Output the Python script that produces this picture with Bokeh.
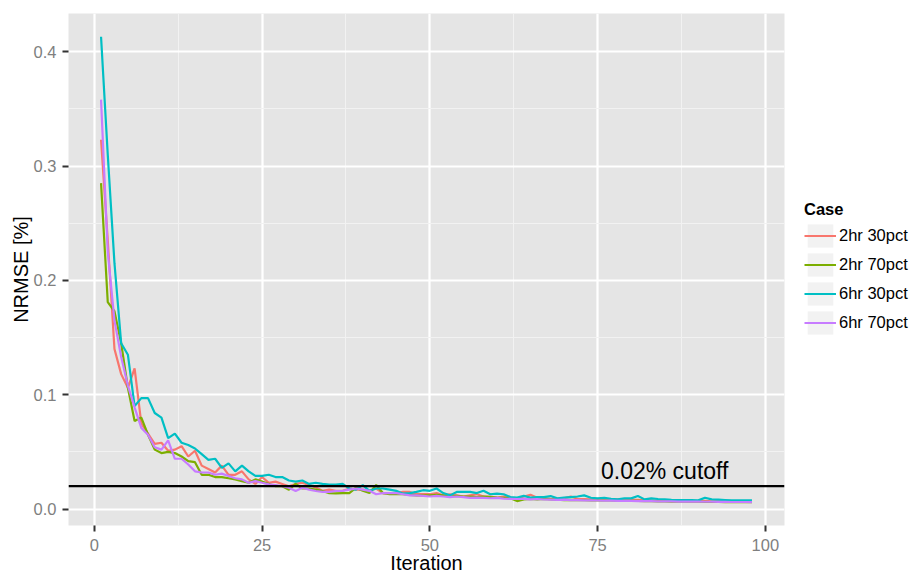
import numpy as np
from bokeh.plotting import figure
from bokeh.layouts import row
from bokeh.models import (Range1d, FixedTicker, NumeralTickFormatter, Span,
                          Legend, LegendItem, Label)
from bokeh.embed import file_html
from bokeh.resources import INLINE

# ---------------- data ----------------
iteration = list(range(1, 99))
case_labels = ["2hr 30pct", "2hr 70pct", "6hr 30pct", "6hr 70pct"]
case_colors = ["#F8766D", "#7CAE00", "#00BFC4", "#C77CFF"]

nrmse_2hr_30pct = [
    0.323, 0.235, 0.140, 0.118, 0.106, 0.123, 0.075, 0.066, 0.057, 0.058,
    0.051, 0.052, 0.055, 0.046, 0.051, 0.038, 0.035, 0.032, 0.038, 0.030,
    0.030, 0.033, 0.026, 0.022, 0.028, 0.023, 0.024, 0.022, 0.020, 0.022,
    0.023, 0.021, 0.019, 0.016, 0.017, 0.016, 0.016, 0.018, 0.017, 0.017,
    0.016, 0.018, 0.014, 0.014, 0.014, 0.015, 0.015, 0.013, 0.013, 0.013,
    0.014, 0.012, 0.013, 0.012, 0.011, 0.012, 0.013, 0.011, 0.011, 0.010,
    0.011, 0.010, 0.009, 0.011, 0.0125, 0.010, 0.0095, 0.009, 0.009, 0.0095,
    0.011, 0.009, 0.0088, 0.0085, 0.009, 0.0085, 0.008, 0.0085, 0.0082, 0.008,
    0.008, 0.0078, 0.0076, 0.0075, 0.0076, 0.0073, 0.0072, 0.0072, 0.007, 0.007,
    0.0072, 0.0068, 0.0068, 0.0067, 0.0066, 0.0066, 0.0065, 0.0065,
]
nrmse_2hr_70pct = [
    0.285, 0.181, 0.173, 0.145, 0.106, 0.077, 0.080, 0.065, 0.052, 0.049,
    0.050, 0.049, 0.046, 0.042, 0.041, 0.030, 0.030, 0.028, 0.028, 0.027,
    0.026, 0.0245, 0.023, 0.026, 0.024, 0.022, 0.020, 0.020, 0.017, 0.022,
    0.018, 0.018, 0.017, 0.0158, 0.014, 0.0137, 0.014, 0.014, 0.0187, 0.016,
    0.014, 0.021, 0.014, 0.013, 0.013, 0.013, 0.0125, 0.012, 0.012, 0.012,
    0.0125, 0.012, 0.011, 0.0115, 0.011, 0.011, 0.0105, 0.011, 0.0105, 0.010,
    0.0098, 0.0095, 0.007, 0.0085, 0.0088, 0.0085, 0.0088, 0.0085, 0.0082, 0.0078,
    0.008, 0.0078, 0.0078, 0.0077, 0.0076, 0.0077, 0.0075, 0.0074, 0.0072, 0.0072,
    0.0071, 0.007, 0.0069, 0.0068, 0.0068, 0.0066, 0.0066, 0.0065, 0.0064, 0.0064,
    0.0063, 0.0062, 0.0063, 0.0061, 0.0061, 0.006, 0.006, 0.006,
]
nrmse_6hr_30pct = [
    0.413, 0.310, 0.215, 0.145, 0.135, 0.090, 0.097, 0.097, 0.084, 0.080,
    0.062, 0.066, 0.058, 0.056, 0.053, 0.048, 0.043, 0.044, 0.036, 0.040,
    0.033, 0.038, 0.033, 0.029, 0.029, 0.030, 0.028, 0.028, 0.025, 0.024,
    0.025, 0.022, 0.023, 0.022, 0.0215, 0.0215, 0.022, 0.018, 0.017, 0.021,
    0.016, 0.018, 0.018, 0.017, 0.016, 0.0135, 0.014, 0.015, 0.0165, 0.016,
    0.018, 0.014, 0.012, 0.015, 0.015, 0.015, 0.014, 0.016, 0.013, 0.0135,
    0.013, 0.0105, 0.010, 0.0115, 0.010, 0.0105, 0.0105, 0.0114, 0.0094, 0.0100,
    0.0105, 0.011, 0.012, 0.0099, 0.0094, 0.0099, 0.009, 0.0085, 0.0094, 0.0094,
    0.0114, 0.0085, 0.0094, 0.0088, 0.0085, 0.008, 0.0079, 0.0079, 0.0078, 0.0076,
    0.0099, 0.0085, 0.0082, 0.0079, 0.0076, 0.0076, 0.0076, 0.0076,
]
nrmse_6hr_70pct = [
    0.358, 0.225, 0.165, 0.133, 0.108, 0.089, 0.071, 0.065, 0.054, 0.052,
    0.060, 0.044, 0.044, 0.039, 0.033, 0.032, 0.032, 0.030, 0.031, 0.029,
    0.027, 0.026, 0.023, 0.0245, 0.023, 0.0216, 0.021, 0.020, 0.0187, 0.0158,
    0.0187, 0.017, 0.0158, 0.015, 0.015, 0.0158, 0.016, 0.017, 0.018, 0.017,
    0.016, 0.013, 0.014, 0.014, 0.014, 0.013, 0.012, 0.012, 0.0115, 0.011,
    0.0115, 0.011, 0.0105, 0.011, 0.0105, 0.0098, 0.010, 0.0098, 0.0095, 0.0098,
    0.0092, 0.009, 0.0088, 0.009, 0.0085, 0.0088, 0.0084, 0.0082, 0.008, 0.0082,
    0.0078, 0.0078, 0.0076, 0.0077, 0.0075, 0.0074, 0.0074, 0.0072, 0.0071, 0.0072,
    0.007, 0.0069, 0.0069, 0.0068, 0.0068, 0.0067, 0.0066, 0.0066, 0.0065, 0.0065,
    0.0064, 0.0064, 0.0063, 0.0063, 0.0062, 0.0062, 0.0062, 0.0061,
]
series = [nrmse_2hr_30pct, nrmse_2hr_70pct, nrmse_6hr_30pct, nrmse_6hr_70pct]

cutoff = 0.02
cutoff_label = "0.02% cutoff"
x_ticks = [0, 25, 50, 75, 100]
x_minor_ticks = [12.5, 37.5, 62.5, 87.5]
y_ticks = [0.0, 0.1, 0.2, 0.3, 0.4]
y_minor_ticks = [0.05, 0.15, 0.25, 0.35]

# ---------------- style ----------------
FONT = "Liberation Sans"
PANEL = "#E5E5E5"
KEY_BG = "#F2F2F2"
LINE_W = 2.2

# ggplot-like 5% expansion
xmin, xmax = min(iteration), max(iteration)
allv = [v for s in series for v in s]
ymin, ymax = min(allv), max(allv)
xpad = 0.05 * (xmax - xmin)
ypad = 0.05 * (ymax - ymin)

p = figure(width=800, height=578, title=None,
           x_range=Range1d(xmin - xpad, xmax + xpad),
           y_range=Range1d(ymin - ypad, ymax + ypad),
           output_backend="svg", toolbar_location=None,
           min_border_left=68, min_border_right=16,
           min_border_top=13, min_border_bottom=53)

p.background_fill_color = PANEL
p.border_fill_color = "white"
p.outline_line_color = None

p.xaxis.ticker = FixedTicker(ticks=x_ticks, minor_ticks=x_minor_ticks)
p.yaxis.ticker = FixedTicker(ticks=y_ticks, minor_ticks=y_minor_ticks)
p.xgrid.ticker = p.xaxis.ticker
p.ygrid.ticker = p.yaxis.ticker
p.yaxis.formatter = NumeralTickFormatter(format="0.0")

for g in (p.xgrid, p.ygrid):
    g.grid_line_color = "white"
    g.grid_line_width = 2.2
    g.minor_grid_line_color = "#F2F2F2"
    g.minor_grid_line_width = 1.0

for ax in (p.xaxis, p.yaxis):
    ax.axis_line_color = None
    ax.major_tick_line_color = "#333333"
    ax.major_tick_line_width = 2
    ax.major_tick_in = 0
    ax.major_tick_out = 6
    ax.minor_tick_line_color = None
    ax.major_label_text_font = FONT
    ax.major_label_text_font_size = "16.5px"
    ax.major_label_text_color = "#7F7F7F"
    ax.axis_label_text_font = FONT
    ax.axis_label_text_font_size = "20px"
    ax.axis_label_text_font_style = "normal"
    ax.axis_label_text_color = "black"

p.xaxis.axis_label = "Iteration"
p.xaxis.major_label_standoff = 7
p.xaxis.axis_label_standoff = -2
p.yaxis.axis_label = "NRMSE [%]"
p.yaxis.major_label_standoff = 6
p.yaxis.axis_label_standoff = -1

for vals, col in zip(series, case_colors):
    p.line(iteration, vals, line_color=col, line_width=LINE_W)

p.add_layout(Span(location=cutoff, dimension="width",
                  line_color="black", line_width=2.2))

p.add_layout(Label(x=85, y=0.033, text=cutoff_label, text_align="center",
                   text_baseline="middle", text_font=FONT,
                   text_font_size="23px", text_color="black"))

# ---------------- legend (guide) as a small companion figure ----------------
lf = figure(width=115, height=578, x_range=Range1d(0, 1), y_range=Range1d(0, 1),
            x_axis_type=None, y_axis_type=None, title=None,
            output_backend="svg", toolbar_location=None,
            min_border=0, min_border_left=0, min_border_right=0,
            min_border_top=0, min_border_bottom=0)
lf.outline_line_color = None
lf.background_fill_color = "white"
lf.border_fill_color = "white"
lf.grid.visible = False

items = []
for lab, col in zip(case_labels, case_colors):
    key_bg = lf.rect(x=[np.nan], y=[np.nan], width=1, height=1,
                     fill_color=KEY_BG, line_color=None)
    key_ln = lf.line(x=[np.nan, np.nan], y=[np.nan, np.nan],
                     line_color=col, line_width=LINE_W)
    items.append(LegendItem(label=lab, renderers=[key_bg, key_ln]))

legend = Legend(items=items, location=(4, 188), title="Case",
                title_text_font=FONT, title_text_font_size="16.5px",
                title_text_font_style="bold", title_text_color="black",
                title_standoff=2,
                label_text_font=FONT, label_text_font_size="16.5px",
                label_text_color="black",
                glyph_width=32, glyph_height=29, spacing=0,
                label_standoff=3, padding=0, margin=0,
                border_line_color=None, background_fill_alpha=0)
lf.add_layout(legend)

layout = row(p, lf)
open("out.html", "w").write(file_html(layout, INLINE))
